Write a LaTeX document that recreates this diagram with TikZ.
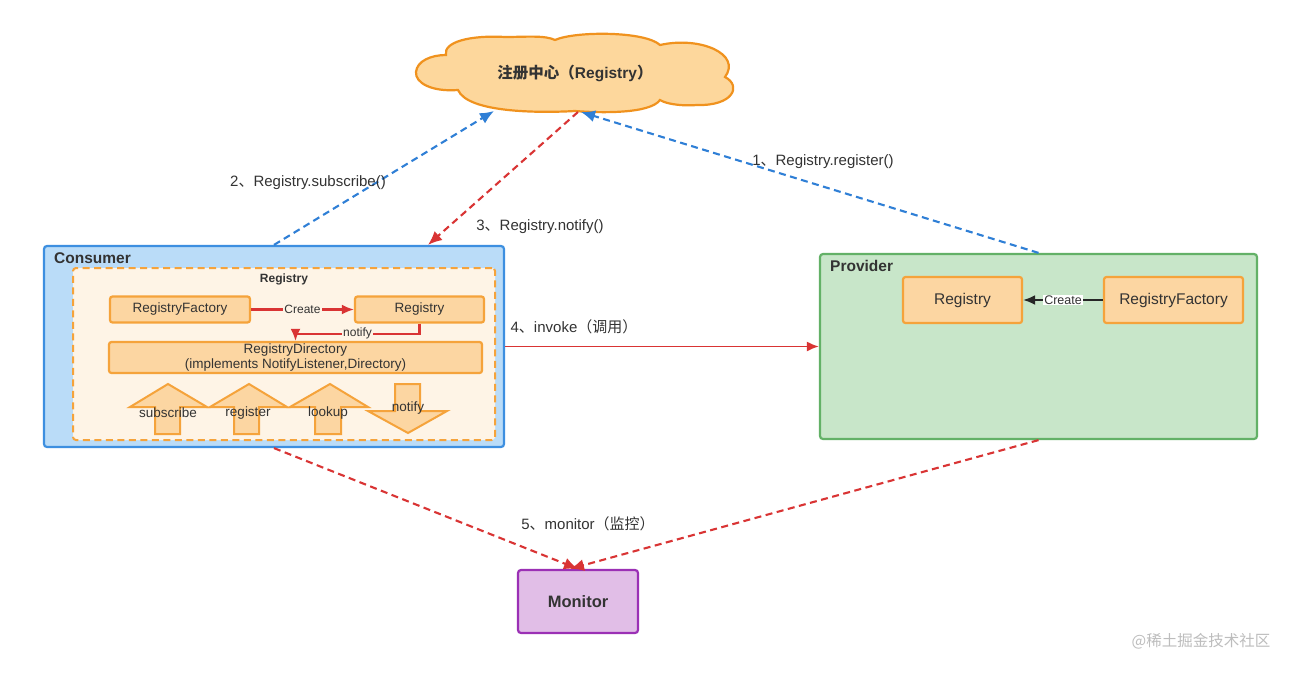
\documentclass[tikz,border=0pt]{standalone}
\usepackage{fontspec}
\setmainfont{Liberation Sans}
\newfontfamily\cjk{Noto Sans CJK SC}
\usetikzlibrary{arrows.meta,calc}
\definecolor{txtc}{HTML}{333333}
\definecolor{cloudfill}{HTML}{FDD79C}
\definecolor{cloudline}{HTML}{F0921E}
\definecolor{consfill}{HTML}{BADCF8}
\definecolor{consline}{HTML}{3D8FE0}
\definecolor{innerfill}{HTML}{FEF4E6}
\definecolor{orline}{HTML}{F5A33B}
\definecolor{boxfill}{HTML}{FCD6A2}
\definecolor{provfill}{HTML}{C8E6C9}
\definecolor{provline}{HTML}{63B167}
\definecolor{monfill}{HTML}{E1BEE7}
\definecolor{monline}{HTML}{9B30B5}
\definecolor{redc}{HTML}{D93434}
\definecolor{bluec}{HTML}{2F7FD6}
\definecolor{wm}{HTML}{BDBDBD}
\newcommand{\zh}[1]{{\cjk #1}}
\begin{document}
\begin{tikzpicture}[x=1pt,y=-1pt,
  lbl/.style={text=txtc,font=\fontsize{15}{18}\selectfont,inner sep=1pt},
  small/.style={text=txtc,font=\fontsize{13.5}{16}\selectfont},
  obox/.style={draw=orline,fill=boxfill,line width=2.2pt,rounded corners=2.5pt,text=txtc,inner sep=0pt},
  blockarr/.style={draw=orline,fill=boxfill,line width=2pt,line join=miter},
  reddash/.style={draw=redc,line width=2.1pt,dash pattern=on 7pt off 4.5pt,-{Latex[length=14pt,width=12pt]}},
  bluedash/.style={draw=bluec,line width=2.1pt,dash pattern=on 7pt off 4.5pt,-{Latex[length=14pt,width=12pt]}},
  redsolid/.style={draw=redc,line width=1.8pt,-{Latex[length=12pt,width=10pt]}},
  title/.style={text=txtc,font=\bfseries\fontsize{15.5}{18}\selectfont,anchor=west,inner sep=0pt}
]
\useasboundingbox (0,0) rectangle (1291,673);
\fill[white] (0,0) rectangle (1291,673);

% cloud
\filldraw[draw=cloudline,fill=cloudfill,line width=2.2pt]
  (416,72) .. controls (417,61) and (431,55) .. (446,55)
  .. controls (443,42) and (470,35) .. (505,37)
  .. controls (525,37) and (545,35) .. (555,40)
  .. controls (575,31) and (645,31) .. (660,45)
  .. controls (700,36) and (742,54) .. (725,77)
  .. controls (742,86) and (733,106) .. (697,105)
  .. controls (686,106) and (668,105) .. (660,100)
  .. controls (650,114) and (600,113) .. (575,111)
  .. controls (540,113) and (468,113) .. (458,90)
  .. controls (432,92) and (415,83) .. (416,72) -- cycle;
\node[text=txtc,font=\bfseries\fontsize{15.5}{18}\selectfont,inner sep=0pt] (reg) at (575,73) {\zh{注册中心（}Registry\zh{）}};
\coordinate (regA) at (494,111);
\coordinate (regB) at (581,112);
\coordinate (regC) at (578,112);

% consumer
\node[draw=consline,fill=consfill,line width=2.2pt,rounded corners=3pt,minimum width=460pt,minimum height=201pt,inner sep=0pt] (cons) at (274,346.5) {};
\node[title] (consT) at (54,258) {Consumer};
\node[draw=orline,fill=innerfill,line width=2pt,dash pattern=on 7pt off 4.5pt,rounded corners=3pt,minimum width=422pt,minimum height=172pt,inner sep=0pt] (inner) at (284,354) {};
\node[text=txtc,font=\bfseries\fontsize{12}{14}\selectfont,inner sep=0pt] (innerT) at (284,279) {Registry};
\node[obox,small,minimum width=140pt,minimum height=26pt] (rf1) at (180,309.5) {RegistryFactory};
\node[obox,small,minimum width=129pt,minimum height=26pt] (rg1) at (419.5,309.5) {Registry};
\node[obox,small,minimum width=373pt,minimum height=31pt,align=center,font=\fontsize{13.5}{15}\selectfont] (rd) at (295.5,357.5) {RegistryDirectory\\(implements NotifyListener,Directory)};
\draw[draw=redc,line width=2.1pt,-{Latex[length=12pt,width=10pt]}] (rf1) -- node[small,fill=innerfill,inner sep=1pt,font=\fontsize{12}{14}\selectfont] (createA) {Create} (rg1);
\draw[draw=redc,line width=2.1pt,-{Latex[length=12pt,width=10pt]}] (rg1.south) -- ++(0,10) -| node[pos=0.25,small,fill=innerfill,inner sep=1pt,font=\fontsize{12}{14}\selectfont] (notifyA) {notify} (rd.north);

% block arrows
\draw[blockarr] (155,434) -- (155,407) -- (130,407) -- (168,384) -- (207,407) -- (180,407) -- (180,434) -- cycle;
\draw[blockarr] (234,434) -- (234,407) -- (210,407) -- (249,384) -- (287,407) -- (259,407) -- (259,434) -- cycle;
\draw[blockarr] (315,434) -- (315,407) -- (290,407) -- (330,384) -- (368,407) -- (341,407) -- (341,434) -- cycle;
\draw[blockarr] (395,384) -- (420,384) -- (420,411) -- (447,411) -- (408,433) -- (368,411) -- (395,411) -- cycle;
\node[small] (bSub) at (168,413) {subscribe};
\node[small] (bReg) at (248,413) {register};
\node[small] (bLook) at (328,413) {lookup};
\node[small] (bNot) at (408,408) {notify};

% provider
\node[draw=provline,fill=provfill,line width=2.2pt,rounded corners=3pt,minimum width=437pt,minimum height=185pt,inner sep=0pt] (prov) at (1038.5,346.5) {};
\node[title] (provT) at (830,266) {Provider};
\node[obox,minimum width=119pt,minimum height=46pt,font=\fontsize{15.5}{18}\selectfont] (rg2) at (962.5,300) {Registry};
\node[obox,minimum width=139pt,minimum height=46pt,font=\fontsize{15.5}{18}\selectfont] (rf2) at (1173.5,300) {RegistryFactory};
\draw[draw=black!85,line width=2.1pt,-{Latex[length=12pt,width=10pt]}] (rf2) -- node[fill=white,text=txtc,inner sep=1pt,font=\fontsize{12.5}{14}\selectfont] (createB) {Create} (rg2);

% monitor
\node[draw=monline,fill=monfill,line width=2.2pt,rounded corners=3pt,minimum width=120pt,minimum height=63pt,inner sep=0pt,text=txtc,font=\bfseries\fontsize{16.5}{19}\selectfont] (mon) at (578,601.5) {Monitor};

% connectors
\draw[bluedash] (prov.north) -- (regB);
\draw[bluedash] (cons.north) -- (regA);
\draw[reddash] (regC) -- ([xshift=154pt]cons.north);
\draw[redsolid] (cons.east) -- (prov.west);
\draw[reddash] (cons.south) -- (mon.north);
\draw[reddash] (prov.south) -- ([xshift=-8pt]mon.north);

% labels
\node[lbl] (l1) at (823,162) {1\zh{、}Registry.register()};
\node[lbl] (l2) at (308,183) {2\zh{、}Registry.subscribe()};
\node[lbl] (l3) at (540,227) {3\zh{、}Registry.notify()};
\node[lbl] (l4) at (574,327) {4\zh{、}invoke\zh{（调用）}};
\node[lbl] (l5) at (588,524) {5\zh{、}monitor\zh{（监控）}};
\node[text=wm,font=\cjk\fontsize{15.5}{18}\selectfont] (wmk) at (1201,641) {@稀土掘金技术社区};
\end{tikzpicture}
\end{document}
